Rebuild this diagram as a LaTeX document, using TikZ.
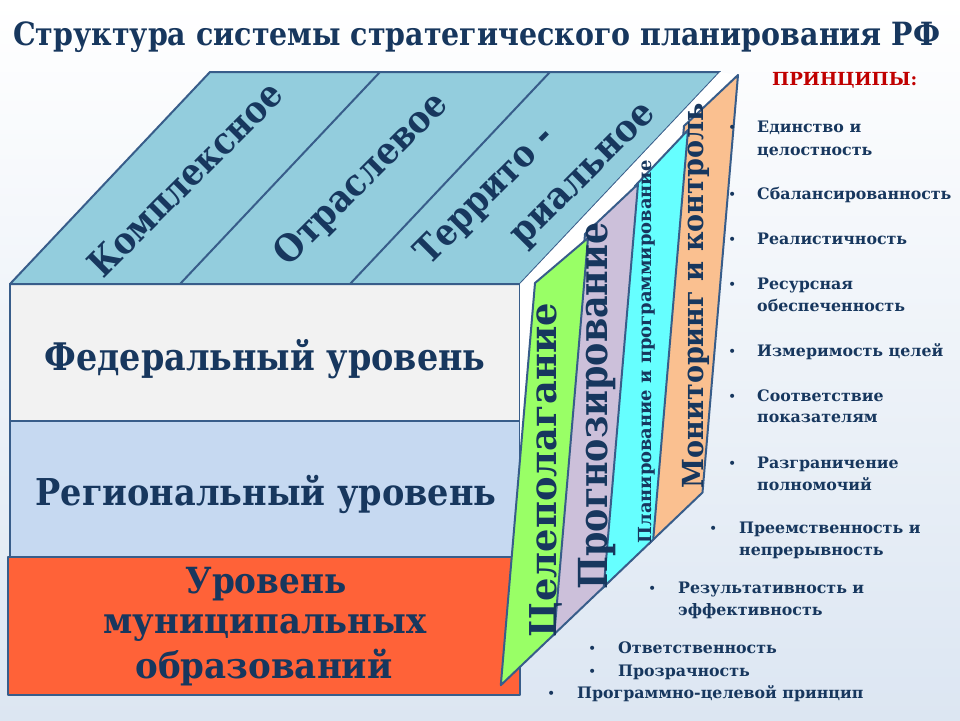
\documentclass[tikz,border=0pt]{standalone}
\usepackage{fontspec}
\setmainfont{DejaVu Serif}
\usepackage{graphicx}
\definecolor{navy}{HTML}{17375E}
\definecolor{bord}{HTML}{385D8A}
\definecolor{topc}{HTML}{93CDDD}
\definecolor{fedc}{HTML}{F2F2F2}
\definecolor{regc}{HTML}{C6D9F1}
\definecolor{munc}{HTML}{FF6238}
\definecolor{grn}{HTML}{99FF66}
\definecolor{lav}{HTML}{CCC0DA}
\definecolor{cyn}{HTML}{66FFFF}
\definecolor{org}{HTML}{FAC090}
\definecolor{bgb}{HTML}{DCE6F2}
\definecolor{redc}{HTML}{C00000}
\newcommand\fitto[2]{\resizebox{#1}{\height}{#2}}
\begin{document}
\begin{tikzpicture}[x=1pt,y=-1pt,
  face/.style={draw=bord,line width=2pt,line join=round},
  lbl/.style={text=navy,font=\bfseries,inner sep=0pt},
  item/.style={text=navy,font=\bfseries\fontsize{15.8}{18}\selectfont,inner sep=0pt,anchor=base west},
  bul/.style={text=navy,font=\fontsize{14}{16}\selectfont,inner sep=0pt,anchor=base west}]
\useasboundingbox (0,0) rectangle (960,720);
\shade[top color=white,bottom color=bgb] (0,0) rectangle (960,720);

% title
\node[lbl,anchor=base west] (title) at (13,45) {\fontsize{32}{36}\selectfont\fitto{927pt}{Структура системы стратегического планирования РФ}};

% front face
\coordinate (TFL) at (10,284);
\coordinate (TFR) at (520,284);
\coordinate (TBL) at (210,72);
\coordinate (TBR) at (720,72);
\filldraw[face,fill=fedc] (10,284) rectangle (520,421);
\filldraw[face,fill=regc] (10,421) rectangle (520,557);
\filldraw[face,fill=munc] (8,557) rectangle (520,695);

% top face
\filldraw[face,fill=topc] (TFL) -- (TBL) -- (TBR) -- (TFR) -- cycle;
\draw[face] (380,72) -- (180,284);
\draw[face] (550,72) -- (350,284);

% white side gap
\fill[white] (TFR) -- (TBR) -- (738,75) -- (703,492) -- (520,492) -- cycle;

% panels (back to front)
\filldraw[face,fill=org] (684,126) -- (738,75) -- (702.5,492.5) -- (648.5,544.1) -- cycle;
\filldraw[face,fill=cyn] (635,186) -- (688,130) -- (653.2,539.6) -- (600.7,589.8) -- cycle;
\filldraw[face,fill=lav] (585,234) -- (638,184) -- (603.8,586.8) -- (550.7,637.5) -- cycle;
\filldraw[face,fill=grn] (535,283) -- (588,238) -- (554.3,634.1) -- (500.8,685.2) -- cycle;

% top face texts
\node[lbl,rotate=45] (kom) at (185,179) {\fontsize{37}{40}\selectfont\fitto{258pt}{Комплексное}};
\node[lbl,rotate=45] (otr) at (362,180) {\fontsize{37}{40}\selectfont\fitto{228pt}{Отраслевое}};
\node[lbl,rotate=45] (ter1) at (486,196) {\fontsize{37}{40}\selectfont\fitto{180pt}{Террито -}};
\node[lbl,rotate=45] (ter2) at (586,177) {\fontsize{37}{40}\selectfont\fitto{188pt}{риальное}};

% front texts
\node[lbl,anchor=base] (fed) at (265,370) {\fontsize{38}{44}\selectfont\fitto{441pt}{Федеральный уровень}};
\node[lbl,anchor=base] (reg) at (266,505) {\fontsize{37}{44}\selectfont\fitto{461pt}{Региональный уровень}};
\node[lbl,anchor=base] (mun1) at (266,593) {\fontsize{36}{44}\selectfont\fitto{161pt}{Уровень}};
\node[lbl,anchor=base] (mun2) at (265,633) {\fontsize{36}{44}\selectfont\fitto{323pt}{муниципальных}};
\node[lbl,anchor=base] (mun3) at (264,678) {\fontsize{36}{44}\selectfont\fitto{257pt}{образований}};

% panel texts
\node[lbl,rotate=90,anchor=base] (tcel) at (556,470) {\fontsize{37}{40}\selectfont\fitto{334pt}{Целеполагание}};
\node[lbl,rotate=90,anchor=base] (tpro) at (607,406) {\fontsize{40}{44}\selectfont\fitto{367pt}{Прогнозирование}};
\node[lbl,rotate=90,anchor=base] (tpla) at (651,352) {\fontsize{18}{20}\selectfont\fitto{383pt}{Планирование и программирование}};
\node[lbl,rotate=90,anchor=base] (tmon) at (703,296) {\fontsize{29}{32}\selectfont\fitto{385pt}{Мониторинг и контроль}};

% principles
\node[lbl,anchor=base west,text=redc] (princ) at (772,85) {\fontsize{18}{20}\selectfont\fitto{145pt}{ПРИНЦИПЫ:}};

\node[bul] (b1) at (728,132) {•};
\node[item] (p1a) at (757,132) {Единство и};
\node[item] (p1b) at (757,155) {целостность};
\node[bul] (b2) at (728,199) {•};
\node[item] (p2) at (757,199) {Сбалансированность};
\node[bul] (b3) at (728,244) {•};
\node[item] (p3) at (757,244) {Реалистичность};
\node[bul] (b4) at (728,289) {•};
\node[item] (p4a) at (757,289) {Ресурсная};
\node[item] (p4b) at (757,311) {обеспеченность};
\node[bul] (b5) at (728,356) {•};
\node[item] (p5) at (757,356) {Измеримость целей};
\node[bul] (b6) at (728,401) {•};
\node[item] (p6a) at (757,401) {Соответствие};
\node[item] (p6b) at (757,422) {показателям};
\node[bul] (b7) at (728,468) {•};
\node[item] (p7a) at (757,468) {Разграничение};
\node[item] (p7b) at (757,490) {полномочий};
\node[bul] (b8) at (709,533) {•};
\node[item] (p8a) at (739,533) {Преемственность и};
\node[item] (p8b) at (739,555) {непрерывность};
\node[bul] (b9) at (648,593) {•};
\node[item] (p9a) at (678,593) {Результативность и};
\node[item] (p9b) at (678,615) {эффективность};
\node[bul] (b10) at (588,653) {•};
\node[item] (p10) at (618,653) {Ответственность};
\node[bul] (b11) at (588,676) {•};
\node[item] (p11) at (618,676) {Прозрачность};
\node[bul] (b12) at (547,698) {•};
\node[item] (p12) at (577,698) {Программно-целевой принцип};
\end{tikzpicture}
\end{document}
